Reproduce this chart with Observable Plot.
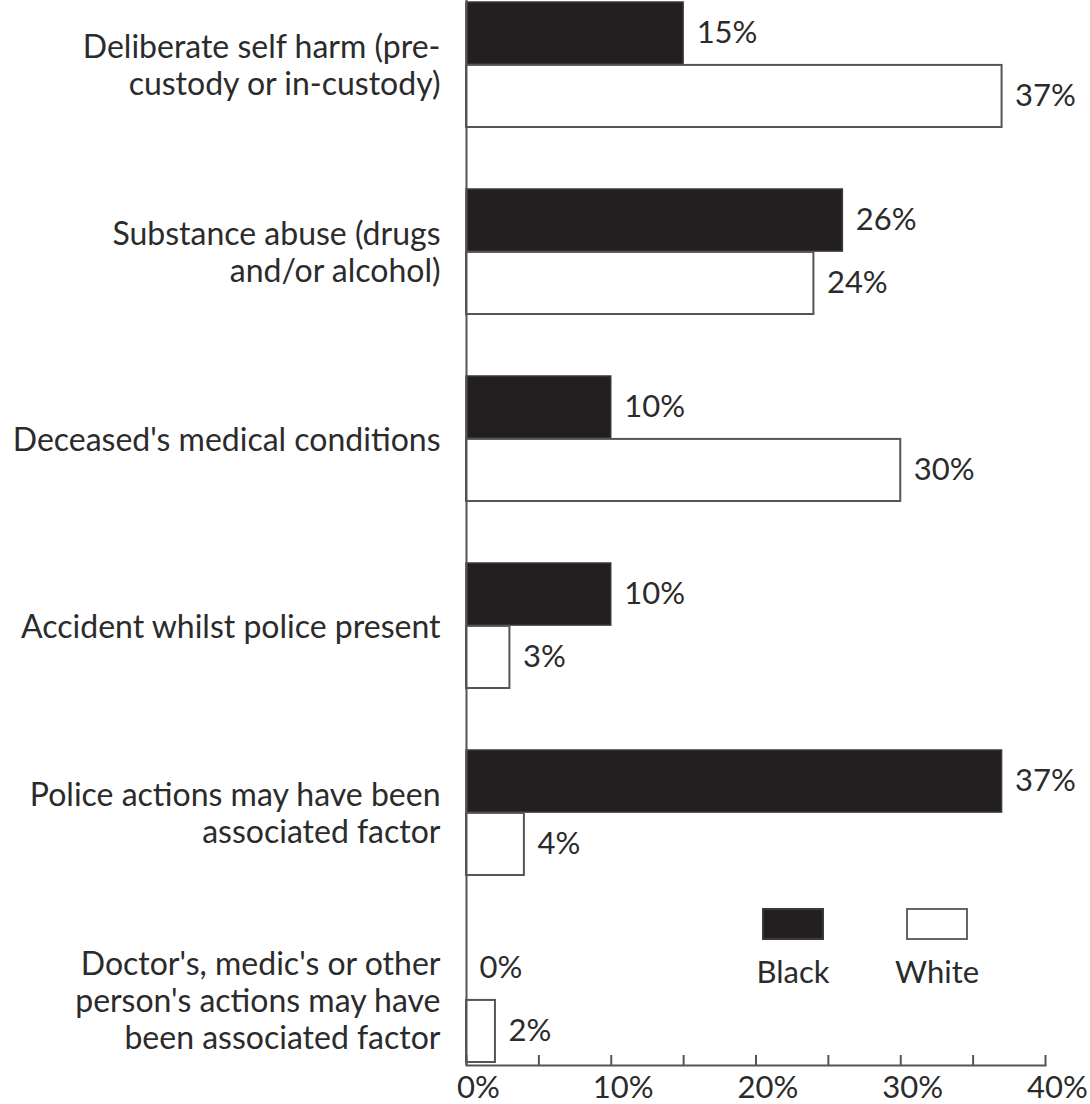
<!DOCTYPE html>
<html><head><meta charset="utf-8">
<script src="https://cdn.jsdelivr.net/npm/d3@7"></script>
<script src="https://cdn.jsdelivr.net/npm/@observablehq/plot@0.6"></script>
<style>
body{margin:0;background:#fff;}
#wrap{position:relative;width:1090px;height:1104px;}
.lg{position:absolute;font-family:Lato,"Open Sans",sans-serif;font-size:31px;color:#2b2b2b;text-align:center;line-height:1;}
.sw{position:absolute;box-sizing:border-box;}
</style></head><body><div id="wrap"></div>
<script>
const categories = ["self","substance","medical","accident","police","doctor"];
const categoryLabels = [
  "Deliberate self harm (pre-\ncustody or in-custody)",
  "Substance abuse (drugs\nand/or alcohol)",
  "Deceased's medical conditions",
  "Accident whilst police present",
  "Police actions may have been\nassociated factor",
  "Doctor's, medic's or other\nperson's actions may have\nbeen associated factor"
];
const series = ["Black", "White"];
const blackValues = [15, 26, 10, 10, 37, 0];
const whiteValues = [37, 24, 30, 3, 4, 2];
const xTickLabels = [0, 10, 20, 30, 40];
const xTickMarks = [0, 5, 10, 15, 20, 25, 30, 35, 40];

const W = 1090, H = 1104, mT = 0, mB = 39, mL = 466, mR = 45;
const padInner = 0.33;
const step = (H - mT - mB) / (categories.length - padInner);
const half = step * (1 - padInner) / 2;

const blackData = categories.map((c, i) => ({cat: c, value: blackValues[i]}));
const whiteData = categories.map((c, i) => ({cat: c, value: whiteValues[i]}));
const labelOf = new Map(categories.map((c, i) => [c, categoryLabels[i]]));
const font = "Lato, 'Open Sans', sans-serif";
const ink = "#2b2b2b";

const chart = Plot.plot({
  width: W, height: H,
  marginTop: mT, marginBottom: mB, marginLeft: mL, marginRight: mR,
  style: {fontFamily: font, fontSize: "31px", color: ink, background: "white", overflow: "visible"},
  x: {domain: [0, 40], label: null},
  y: {domain: categories, paddingInner: padInner, paddingOuter: 0, label: null},
  marks: [
    Plot.barX(blackData, {x: "value", y: "cat", fill: "#231f20", stroke: "#3a3a3a", strokeWidth: 1.5, insetBottom: half}),
    Plot.barX(whiteData, {x: "value", y: "cat", fill: "white", stroke: "#555", strokeWidth: 2, insetTop: half}),
    Plot.text(blackData, {x: "value", y: "cat", text: d => d.value + "%", dx: 13, dy: -half / 2, textAnchor: "start", fill: ink, fontSize: 31}),
    Plot.text(whiteData, {x: "value", y: "cat", text: d => d.value + "%", dx: 13, dy: half / 2, textAnchor: "start", fill: ink, fontSize: 31}),
    Plot.ruleX([0], {stroke: "#555", strokeWidth: 2}),
    Plot.frame({anchor: "bottom", stroke: "#555", strokeWidth: 2}),
    Plot.axisX(xTickMarks, {tickSize: -10, tickFormat: () => "", stroke: "#555", strokeWidth: 2, label: null}),
    Plot.axisX(xTickLabels, {tickSize: 0, tickPadding: 10, dx: 12, tickFormat: d => d + "%", fontSize: 31, fill: ink, label: null}),
    Plot.axisY({tickSize: 0, tickPadding: 26, tickFormat: d => labelOf.get(d), fontSize: 32, lineHeight: 1.15, fill: ink, textAnchor: "end", label: null})
  ]
});
const wrap = document.getElementById("wrap");
wrap.appendChild(chart);

// legend
const legendItems = [
  {name: series[0], fill: "#231f20", stroke: "#3a3a3a", left: 762},
  {name: series[1], fill: "white", stroke: "#666", left: 906}
];
for (const it of legendItems) {
  const sw = document.createElement("div");
  sw.className = "sw";
  Object.assign(sw.style, {left: it.left + "px", top: "908px", width: "62px", height: "32px", background: it.fill, border: "2px solid " + it.stroke});
  wrap.appendChild(sw);
  const t = document.createElement("div");
  t.className = "lg";
  t.textContent = it.name;
  Object.assign(t.style, {left: (it.left - 30) + "px", width: "122px", top: "956px"});
  wrap.appendChild(t);
}
</script></body></html>
